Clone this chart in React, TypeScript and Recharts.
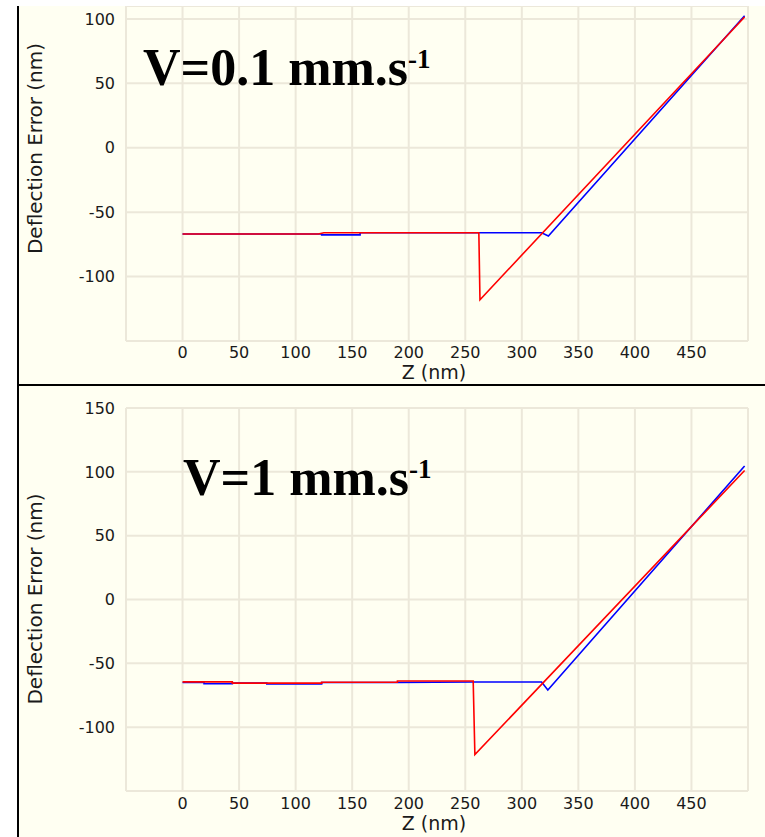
import React from "react";
import { CartesianGrid, Line, LineChart, XAxis, YAxis } from "recharts";

// z positions (nm) and deflection error (nm)
const slowApproachZ = [0, 120, 125, 262, 263, 497];
const slowApproachD = [-67, -67, -66, -66, -118, 101.5];
const slowRetractZ = [0, 123, 123, 157, 157, 317.5, 323.5, 497];
const slowRetractD = [-67, -67, -67.6, -67.6, -66, -66, -68.5, 102.5];

const fastApproachZ = [0, 44, 44, 123, 123, 190, 190, 257, 258.5, 497];
const fastApproachD = [-64.5, -64.5, -65.5, -65.5, -64.8, -64.8, -63.8, -63.8, -121.5, 101];
const fastRetractZ = [0, 19, 19, 44, 44, 74.5, 74.5, 123, 123, 190, 257, 317.5, 323, 497];
const fastRetractD = [-65, -65, -66, -66, -65.5, -65.5, -66.2, -66.2, -65, -65, -64.6, -64.6, -70.9, 104.5];

const zTicks = [-50, 0, 50, 100, 150, 200, 250, 300, 350, 400, 450, 500];
const topYTicks = [-150, -100, -50, 0, 50, 100];
const bottomYTicks = [-150, -100, -50, 0, 50, 100, 150];

const CREAM = "#FFFFF2";
const GRID = "#ECE8DA";
const TEXT = "#1a1a1a";
const SANS = "'DejaVu Sans', sans-serif";

const toRows = (z: number[], d: number[]) => z.map((v, i) => ({ z: v, d: d[i] }));

interface PanelProps {
  height: number;
  marginTop: number;
  xAxisHeight: number;
  yDomain: [number, number];
  yTicks: number[];
  approach: { z: number; d: number }[];
  retract: { z: number; d: number }[];
  yLabelY: number;
  xLabelY: number;
  xTickMargin: number;
}

const Panel: React.FC<PanelProps> = ({
  height, marginTop, xAxisHeight, yDomain, yTicks, approach, retract, yLabelY, xLabelY, xTickMargin,
}) => {
  const tick = { fontFamily: SANS, fontSize: 16, fill: TEXT };
  return (
    <LineChart width={746} height={height} margin={{ top: marginTop, right: 17, bottom: 0, left: 0 }}>
      <CartesianGrid stroke={GRID} strokeWidth={2} />
      <XAxis
        dataKey="z"
        type="number"
        domain={[-50, 500]}
        ticks={zTicks}
        allowDataOverflow
        height={xAxisHeight}
        tickLine={false}
        axisLine={false}
        tickMargin={xTickMargin}
        tick={tick}
        tickFormatter={(v: number) => (v < 0 || v >= 500 ? "" : String(v))}
        label={{
          content: () => (
            <text x={415} y={xLabelY} textAnchor="middle" fontFamily={SANS} fontSize={19} fill={TEXT}>
              Z (nm)
            </text>
          ),
        }}
      />
      <YAxis
        type="number"
        domain={yDomain}
        ticks={yTicks}
        allowDataOverflow
        width={107}
        tickLine={false}
        axisLine={false}
        tickMargin={5}
        tick={tick}
        tickFormatter={(v: number) => (v <= -150 ? "" : String(v))}
        label={{
          content: () => (
            <text
              x={22.5}
              y={yLabelY}
              textAnchor="middle"
              transform={`rotate(-90, 22.5, ${yLabelY})`}
              fontFamily={SANS}
              fontSize={20}
              fill={TEXT}
            >
              Deflection Error (nm)
            </text>
          ),
        }}
      />
      <Line data={retract} dataKey="d" type="linear" stroke="#0000FF" strokeWidth={1.6} dot={false} isAnimationActive={false} />
      <Line data={approach} dataKey="d" type="linear" stroke="#FF0000" strokeWidth={1.6} dot={false} isAnimationActive={false} />
    </LineChart>
  );
};

const Title: React.FC<{ x: number; y: number; speed: string }> = ({ x, y, speed }) => (
  <text x={x} y={y} fontFamily="'Liberation Serif', 'Times New Roman', serif" fontWeight="bold" fontSize={52} fill="#000">
    {`V=${speed} mm.s`}
    <tspan fontSize={27} dy={-17}>-1</tspan>
  </text>
);

export default function App() {
  return (
    <div style={{ position: "absolute", left: 0, top: 0, width: 765, height: 837, background: "#fff", overflow: "hidden" }}>
      <div style={{ position: "absolute", left: 19, top: 6, width: 746, height: 831, background: CREAM }} />
      <div style={{ position: "absolute", left: 17, top: 6, width: 2, height: 831, background: "#000" }} />
      <div style={{ position: "absolute", left: 19, top: 6 }}>
        <Panel
          height={378}
          marginTop={0}
          xAxisHeight={43}
          yDomain={[-150, 110]}
          yTicks={topYTicks}
          approach={toRows(slowApproachZ, slowApproachD)}
          retract={toRows(slowRetractZ, slowRetractD)}
          yLabelY={142.5}
          xLabelY={373}
          xTickMargin={0}
        />
      </div>
      <div style={{ position: "absolute", left: 17, top: 384, width: 748, height: 2, background: "#000" }} />
      <div style={{ position: "absolute", left: 19, top: 387 }}>
        <Panel
          height={450}
          marginTop={21}
          xAxisHeight={46}
          yDomain={[-150, 150]}
          yTicks={bottomYTicks}
          approach={toRows(fastApproachZ, fastApproachD)}
          retract={toRows(fastRetractZ, fastRetractD)}
          yLabelY={212}
          xLabelY={443}
          xTickMargin={1}
        />
      </div>
      <svg width={765} height={837} style={{ position: "absolute", left: 0, top: 0, pointerEvents: "none" }}>
        <Title x={143} y={85} speed="0.1" />
        <Title x={183} y={495} speed="1" />
      </svg>
    </div>
  );
}
